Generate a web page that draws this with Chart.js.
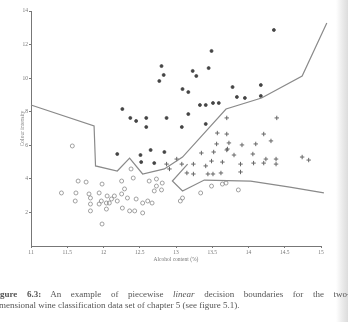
<!DOCTYPE html>
<html>
<head>
<meta charset="utf-8">
<script src="https://cdn.jsdelivr.net/npm/chart.js@4/dist/chart.umd.min.js"></script>
<style>
  html, body { margin: 0; padding: 0; width: 348px; height: 322px; overflow: hidden; }
  body { position: relative; background: linear-gradient(to right, #fff 0, #fff 336px, #ececec 342px, #dcdcdc 348px); filter: blur(0.35px); }
  #wrap { position: absolute; left: 0; top: 0; width: 348px; height: 270px; }
  .cap { position: absolute; left: -8px; font: 9px "Liberation Serif", serif; color: #555; white-space: nowrap; line-height: 11px; }
  #cap1 { top: 289px; width: 358px; text-align: justify; text-align-last: justify; white-space: normal; }
  #cap2 { top: 300px; }
</style>
</head>
<body>
<div id="wrap"><canvas id="chart" width="348" height="270"></canvas></div>
<div class="cap" id="cap1"><b>Figure 6.3:</b> An example of piecewise <i>linear</i> decision boundaries for the two-</div>
<div class="cap" id="cap2">dimensional wine classification data set of chapter 5 (see figure 5.1).</div>
<script>
// Achsen
const xTicks = [11, 11.5, 12, 12.5, 13, 13.5, 14, 14.5, 15];
const yTicks = [2, 4, 6, 8, 10, 12, 14];

// Klasse 3 (hohe Farbintensität, oben)
const cls3Alcohol = [14.35, 13.49, 12.80, 12.83, 12.77, 13.23, 13.28, 13.45, 13.09, 13.17,
                     13.33, 13.41, 13.51, 13.59, 13.78, 13.84, 13.95, 14.17, 14.17, 12.26,
                     12.37, 12.45, 12.59, 12.59, 12.87, 13.17, 13.08, 13.41, 12.19, 12.51,
                     12.65, 12.84, 12.52, 12.70];
const cls3Colour  = [12.87, 11.62, 10.72, 10.19, 9.83, 10.43, 10.13, 10.60, 9.35, 9.17,
                     8.40, 8.40, 8.52, 8.52, 9.47, 8.88, 8.82, 9.59, 8.94, 8.16,
                     7.63, 7.45, 7.63, 7.09, 7.63, 7.86, 7.09, 7.27, 5.48, 5.42,
                     5.72, 5.60, 5.00, 4.94];

// Klasse 1 (rechts, zwischen den Grenzen)
const cls1Alcohol = [13.70, 13.57, 14.39, 13.70, 13.73, 14.21, 14.31, 13.56, 13.91, 14.10,
                     13.35, 13.52, 13.70, 13.80, 14.06, 13.89, 13.89, 14.07, 14.24, 14.21,
                     14.38, 14.38, 14.74, 14.83, 13.64, 13.41, 13.24, 13.51, 13.62, 13.15,
                     13.24, 13.01, 13.08, 13.71, 13.49, 13.44, 12.87, 12.91];
const cls1Colour  = [7.63, 6.73, 7.63, 6.67, 6.14, 6.67, 6.26, 6.08, 6.02, 6.08,
                     5.54, 5.60, 5.72, 5.42, 5.48, 4.88, 4.41, 4.94, 5.18, 4.94,
                     5.18, 4.88, 5.30, 5.12, 5.00, 4.77, 4.29, 4.29, 4.35, 4.35,
                     4.88, 5.18, 4.88, 5.78, 5.06, 4.29, 4.88, 4.59];

// Klasse 2 (unten links)
const cls2Alcohol = [11.57, 11.65, 11.76, 12.25, 12.41, 12.38, 12.73, 11.42, 11.62, 11.61,
                     11.80, 11.82, 11.82, 11.82, 11.94, 11.98, 12.05, 11.97, 12.04, 12.11,
                     12.15, 12.19, 12.25, 12.29, 12.33, 12.26, 12.36, 12.43, 12.45, 12.54,
                     12.61, 12.67, 12.70, 12.73, 12.81, 11.98, 12.08, 12.04, 11.94, 12.54,
                     12.63, 12.80, 13.09, 13.06, 13.34, 13.49, 13.64, 13.69, 13.86];
const cls2Colour  = [5.96, 3.87, 3.81, 3.87, 4.05, 4.59, 3.99, 3.16, 3.16, 2.68,
                     3.10, 2.86, 2.50, 2.09, 3.16, 3.69, 2.98, 2.68, 2.56, 2.80,
                     2.98, 2.68, 3.10, 3.40, 2.86, 2.26, 2.09, 2.09, 2.80, 2.56,
                     2.68, 2.56, 3.28, 3.57, 3.75, 1.31, 2.56, 2.20, 2.50, 1.97,
                     3.87, 3.34, 2.86, 2.68, 3.16, 3.57, 3.69, 3.75, 3.34];

// Entscheidungsgrenzen
const upperAlcohol = [11.0, 11.87, 11.89, 12.19, 12.36, 12.54, 12.84, 13.09, 13.69, 14.18, 14.74, 15.08];
const upperColour  = [8.40, 7.15, 4.77, 4.47, 5.24, 4.29, 4.59, 5.30, 8.16, 8.82, 10.13, 13.28];
const lowerAlcohol = [13.16, 12.95, 13.09, 13.39, 14.03, 14.57, 15.04];
const lowerColour  = [4.88, 3.87, 3.28, 3.93, 3.87, 3.51, 3.16];

const pts = (xs, ys) => xs.map((x, i) => ({ x, y: ys[i] }));
const tickFont = { family: 'Liberation Serif', size: 5.5 };
const grey = '#777';

function boundary(xs, ys) {
  return {
    data: pts(xs, ys),
    showLine: true,
    borderColor: '#8a8a8a',
    borderWidth: 1.2,
    pointRadius: 0,
    tension: 0,
    clip: false,
  };
}

new Chart(document.getElementById('chart').getContext('2d'), {
  type: 'scatter',
  data: {
    datasets: [
      boundary(upperAlcohol, upperColour),
      boundary(lowerAlcohol, lowerColour),
      {
        data: pts(cls3Alcohol, cls3Colour),
        pointStyle: 'circle', pointRadius: 1.5,
        backgroundColor: '#444', borderColor: '#444', borderWidth: 0.8,
      },
      {
        data: pts(cls1Alcohol, cls1Colour),
        pointStyle: 'cross', pointRadius: 2.2,
        borderColor: '#666', borderWidth: 1,
      },
      {
        data: pts(cls2Alcohol, cls2Colour),
        pointStyle: 'circle', pointRadius: 2,
        backgroundColor: 'rgba(0,0,0,0)', borderColor: '#8a8a8a', borderWidth: 0.8,
      },
    ],
  },
  options: {
    responsive: false,
    animation: false,
    events: [],
    layout: { padding: { left: 13, right: 27, top: 11, bottom: 0 } },
    plugins: { legend: { display: false }, tooltip: { enabled: false } },
    scales: {
      x: {
        type: 'linear', min: 11, max: 15,
        afterBuildTicks: s => { s.ticks = xTicks.map(v => ({ value: v })); },
        afterFit: s => { s.height = 24; },
        ticks: { font: tickFont, color: grey, padding: 1, maxRotation: 0, callback: v => String(v) },
        grid: { drawOnChartArea: false, tickLength: 2, color: grey },
        border: { color: grey, width: 1 },
        title: { display: true, text: 'Alcohol content (%)', font: tickFont, color: grey, padding: { top: 7, bottom: 7 } },
      },
      y: {
        min: 0, max: 14,
        afterBuildTicks: s => { s.ticks = yTicks.map(v => ({ value: v })); },
        afterFit: s => { s.width = 18; },
        ticks: { font: tickFont, color: grey, padding: 1 },
        grid: { drawOnChartArea: false, tickLength: 2, color: grey },
        border: { color: grey, width: 1 },
        title: { display: true, text: 'Colour intensity', font: tickFont, color: grey, padding: { top: 6, bottom: 2 } },
      },
    },
  },
});
</script>
</body>
</html>
